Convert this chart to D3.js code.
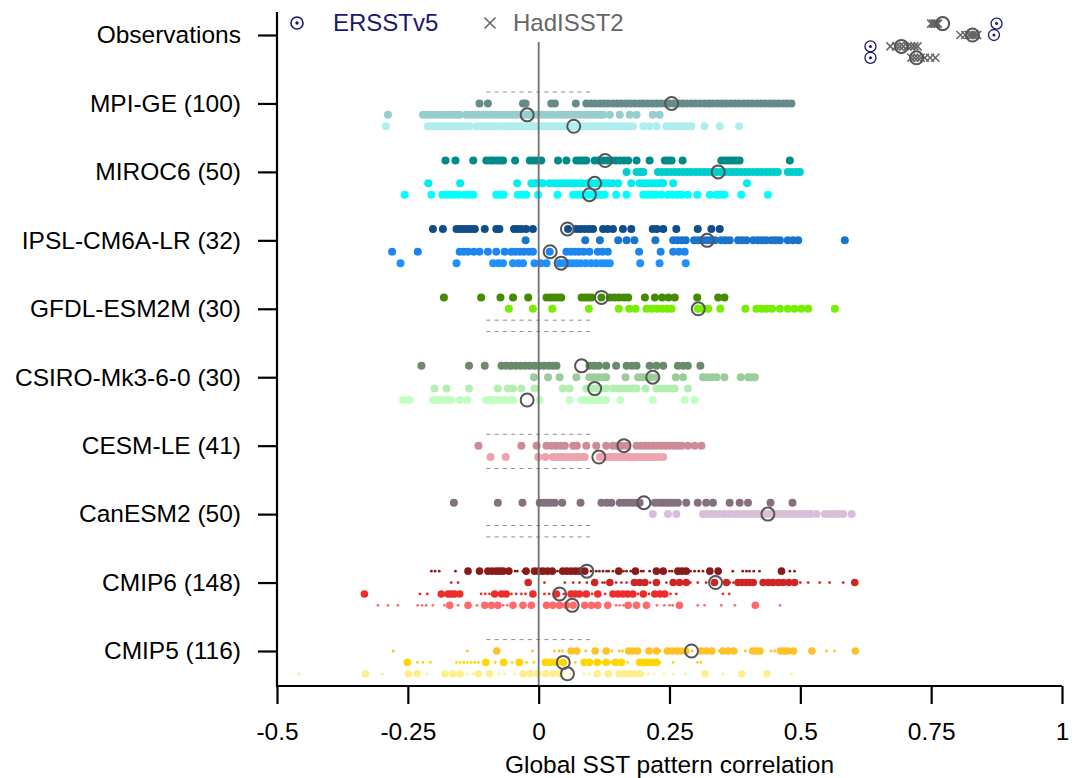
<!DOCTYPE html>
<html><head><meta charset="utf-8">
<script src="https://cdn.jsdelivr.net/npm/d3@7"></script>
<style>body{margin:0;background:#fff}svg{display:block;font-family:"Liberation Sans",Arial,sans-serif}</style>
</head><body><svg id="c" width="1079" height="778"></svg>
<script>
const categories = ["Observations","MPI-GE (100)","MIROC6 (50)","IPSL-CM6A-LR (32)","GFDL-ESM2M (30)","CSIRO-Mk3-6-0 (30)","CESM-LE (41)","CanESM2 (50)","CMIP6 (148)","CMIP5 (116)"];
const xTicks = [-0.5,-0.25,0,0.25,0.5,0.75,1];
const xTickLabels = ["-0.5","-0.25","0","0.25","0.5","0.75","1"];
const xTitle = "Global SST pattern correlation";
const legendLabels = ["ERSSTv5","HadISST2"];

// Observations (4 sub-rows)
const ersst = [0.875, 0.870, 0.634, 0.634];
const hadisst = [
  [0.750,0.754,0.757,0.760,0.763],
  [0.806,0.815,0.822,0.826,0.830,0.834,0.838],
  [0.672,0.683,0.690,0.697,0.705,0.712,0.718,0.724],
  [0.712,0.718,0.724,0.730,0.738,0.748,0.758]
];
const hadisstMeans = [0.772, 0.829, 0.693, 0.722];

// single-model large ensembles: 4 sub-rows each (null = no data, dashed)
const mpiGE = [null,
  [-0.113,-0.097,-0.030,-0.025,0.024,0.031,0.071,0.091,0.10,0.108,0.117,0.125,0.133,0.142,0.15,0.158,0.167,0.175,0.183,0.192,0.20,0.208,0.217,0.225,0.233,0.242,0.25,0.258,0.267,0.275,0.283,0.292,0.30,0.308,0.317,0.325,0.333,0.342,0.35,0.358,0.367,0.375,0.383,0.392,0.40,0.408,0.417,0.425,0.433,0.442,0.45,0.458,0.467,0.475,0.483],
  [-0.288,-0.221,-0.213,-0.205,-0.197,-0.189,-0.181,-0.173,-0.165,-0.158,-0.151,-0.138,-0.130,-0.122,-0.114,-0.106,-0.098,-0.090,-0.082,-0.074,-0.066,-0.058,-0.050,-0.042,-0.034,-0.026,-0.018,-0.010,-0.002,0.006,0.014,0.022,0.030,0.038,0.046,0.054,0.062,0.070,0.078,0.086,0.094,0.102,0.110,0.118,0.123,0.136,0.155,0.174,0.187,0.218,0.231],
  [-0.292,-0.212,-0.204,-0.196,-0.188,-0.180,-0.172,-0.164,-0.156,-0.148,-0.140,-0.132,-0.119,-0.111,-0.103,-0.095,-0.087,-0.081,-0.071,-0.063,-0.055,-0.047,-0.039,-0.031,-0.023,-0.015,-0.007,0.001,0.009,0.017,0.025,0.033,0.041,0.049,0.053,0.059,0.067,0.075,0.083,0.091,0.099,0.107,0.115,0.123,0.131,0.139,0.147,0.155,0.163,0.171,0.180,0.200,0.212,0.225,0.244,0.252,0.260,0.268,0.276,0.284,0.292,0.317,0.346,0.383]];
const mpiGEMeans = [null, 0.254, -0.022, 0.067];

const miroc6 = [
  [-0.178,-0.159,-0.125,-0.100,-0.093,-0.087,-0.080,-0.074,-0.068,-0.045,-0.017,-0.010,-0.003,0.005,0.037,0.053,0.072,0.079,0.085,0.091,0.107,0.115,0.123,0.131,0.139,0.147,0.155,0.163,0.171,0.187,0.212,0.241,0.247,0.254,0.275,0.349,0.356,0.363,0.370,0.377,0.384,0.480],
  [0.168,0.187,0.194,0.200,0.228,0.236,0.244,0.252,0.260,0.268,0.276,0.284,0.292,0.300,0.308,0.316,0.324,0.332,0.340,0.348,0.356,0.364,0.371,0.378,0.386,0.394,0.402,0.410,0.418,0.426,0.434,0.442,0.450,0.457,0.476,0.484,0.492,0.499],
  [-0.211,-0.150,-0.041,-0.014,-0.006,0.002,0.008,0.021,0.029,0.037,0.045,0.053,0.061,0.069,0.077,0.085,0.093,0.101,0.109,0.117,0.125,0.133,0.141,0.152,0.177,0.193,0.201,0.209,0.217,0.225,0.233,0.238,0.257,0.398],
  [-0.256,-0.205,-0.184,-0.176,-0.168,-0.160,-0.152,-0.141,-0.133,-0.125,-0.081,-0.074,-0.067,-0.040,-0.032,-0.024,-0.001,0.036,0.066,0.074,0.082,0.090,0.098,0.106,0.114,0.120,0.126,0.148,0.168,0.200,0.208,0.216,0.224,0.234,0.247,0.256,0.265,0.273,0.285,0.303,0.327,0.339,0.347,0.355,0.387,0.438]];
const miroc6Means = [0.127, 0.343, 0.107, 0.097];

const ipsl = [
  [-0.202,-0.183,-0.157,-0.150,-0.143,-0.136,-0.129,-0.122,-0.103,-0.081,-0.075,-0.047,-0.040,-0.033,-0.024,-0.011,0.056,0.072,0.080,0.088,0.096,0.104,0.123,0.132,0.142,0.161,0.177,0.218,0.226,0.238,0.263,0.304,0.330,0.346],
  [-0.025,0.089,0.117,0.152,0.168,0.183,0.223,0.257,0.265,0.273,0.281,0.297,0.305,0.313,0.321,0.329,0.337,0.349,0.357,0.365,0.381,0.389,0.397,0.410,0.419,0.427,0.435,0.445,0.453,0.461,0.476,0.486,0.496,0.585],
  [-0.280,-0.231,-0.151,-0.143,-0.135,-0.124,-0.113,-0.097,-0.081,-0.065,-0.052,-0.044,-0.036,-0.028,-0.019,-0.011,0.021,0.053,0.061,0.069,0.077,0.086,0.097,0.113,0.122,0.132,0.192,0.233,0.257,0.268,0.279],
  [-0.264,-0.157,-0.087,-0.077,-0.068,-0.049,-0.039,-0.030,-0.008,0.004,0.015,0.040,0.048,0.056,0.064,0.072,0.080,0.090,0.100,0.110,0.120,0.128,0.136,0.194,0.231,0.281]];
const ipslMeans = [0.055, 0.322, 0.022, 0.043];

const gfdl = [
  [-0.181,-0.110,-0.073,-0.049,-0.020,0.015,0.022,0.029,0.036,0.043,0.082,0.089,0.095,0.101,0.120,0.136,0.145,0.154,0.163,0.171,0.203,0.222,0.236,0.248,0.260,0.303,0.343,0.355],
  [-0.057,-0.011,0.026,0.096,0.153,0.173,0.185,0.206,0.216,0.226,0.236,0.246,0.254,0.304,0.314,0.324,0.347,0.395,0.416,0.426,0.436,0.446,0.461,0.476,0.489,0.502,0.515,0.566],
  null, null];
const gfdlMeans = [0.120, 0.305, null, null];

const csiro = [
  [-0.224,-0.133,-0.103,-0.071,-0.062,-0.053,-0.044,-0.035,-0.026,-0.017,-0.008,0.001,0.010,0.019,0.027,0.034,0.097,0.106,0.115,0.129,0.148,0.168,0.178,0.187,0.212,0.225,0.238,0.266,0.276,0.285,0.309],
  [-0.009,0.018,0.040,0.072,0.097,0.106,0.115,0.122,0.129,0.166,0.190,0.198,0.206,0.214,0.225,0.262,0.276,0.314,0.322,0.331,0.340,0.355,0.386,0.400,0.406,0.413],
  [-0.199,-0.176,-0.133,-0.078,-0.059,-0.049,-0.033,-0.008,0.046,0.059,0.091,0.100,0.110,0.120,0.129,0.142,0.152,0.162,0.172,0.180,0.187,0.204,0.225,0.235,0.245,0.253,0.260,0.285],
  [-0.259,-0.247,-0.202,-0.194,-0.186,-0.176,-0.168,-0.151,-0.137,-0.100,-0.092,-0.084,-0.075,-0.066,-0.057,-0.049,0.002,0.059,0.082,0.090,0.098,0.106,0.114,0.122,0.129,0.156,0.218,0.279,0.298]];
const csiroMeans = [0.082, 0.218, 0.107, -0.022];

const cesm = [null,
  [-0.115,-0.033,-0.004,0.015,0.024,0.033,0.042,0.050,0.066,0.073,0.091,0.110,0.129,0.142,0.150,0.158,0.168,0.187,0.195,0.203,0.211,0.219,0.227,0.235,0.243,0.251,0.259,0.266,0.273,0.285,0.298,0.311],
  [-0.092,-0.063,-0.001,0.013,0.027,0.035,0.043,0.051,0.059,0.067,0.075,0.082,0.088,0.117,0.125,0.133,0.141,0.149,0.157,0.165,0.173,0.181,0.189,0.197,0.205,0.213,0.221,0.229,0.238],
  null];
const cesmMeans = [null, 0.163, 0.115, null];

const canesm = [
  [-0.162,-0.078,-0.031,0.002,0.010,0.017,0.024,0.031,0.045,0.080,0.120,0.130,0.139,0.155,0.163,0.171,0.179,0.186,0.193,0.222,0.230,0.237,0.244,0.251,0.258,0.266,0.282,0.304,0.320,0.333,0.365,0.384,0.400,0.443,0.485],
  [0.218,0.247,0.263,0.314,0.322,0.330,0.338,0.346,0.355,0.365,0.375,0.383,0.391,0.399,0.407,0.414,0.422,0.432,0.440,0.448,0.456,0.464,0.472,0.480,0.488,0.496,0.504,0.512,0.520,0.531,0.547,0.556,0.565,0.573,0.582,0.598],
  null, null];
const canesmMeans = [0.201, 0.438, null, null];

// multi-model archives: big dots (single runs) and small dots (ensemble members)
const cmip6Big = [
  [-0.135,-0.113,-0.097,-0.089,-0.081,-0.074,-0.068,-0.057,-0.024,-0.008,0.000,0.008,0.017,0.026,0.046,0.054,0.062,0.070,0.078,0.088,0.153,0.185,0.225,0.238,0.266,0.274,0.282,0.327,0.343,0.464],
  [-0.020,0.107,0.136,0.183,0.193,0.203,0.225,0.257,0.269,0.282,0.336,0.359,0.381,0.389,0.397,0.404,0.410,0.429,0.439,0.448,0.458,0.467,0.478,0.489,0.604],
  [-0.333,-0.186,-0.173,-0.167,-0.161,-0.151,-0.084,-0.071,-0.062,-0.011,0.034,0.062,0.070,0.078,0.091,0.113,0.142,0.152,0.161,0.170,0.180,0.200,0.222,0.232,0.241],
  [-0.170,-0.135,-0.103,-0.090,-0.078,-0.049,-0.030,-0.014,0.015,0.027,0.040,0.053,0.066,0.088,0.101,0.113,0.132,0.171,0.187,0.206,0.269,0.414]];
const cmip6Small = [
  [-0.205,-0.198,-0.190,-0.159,-0.045,-0.041,-0.030,0.036,0.100,0.110,0.116,0.123,0.130,0.134,0.142,0.162,0.168,0.176,0.196,0.200,0.212,0.250,0.255,0.290,0.298,0.306,0.314,0.371,0.390,0.397,0.403,0.411,0.422,0.480,0.489],
  [-0.167,-0.154,0.011,0.050,0.066,0.078,0.092,0.122,0.126,0.148,0.158,0.168,0.213,0.244,0.290,0.304,0.320,0.365,0.372,0.378,0.500,0.515,0.537,0.556,0.582],
  [-0.227,-0.213,-0.110,-0.102,-0.094,-0.052,-0.043,-0.033,-0.025,0.011,0.020,0.048,0.102,0.127,0.190,0.211,0.252,0.263,0.352,0.364],
  [-0.307,-0.288,-0.269,-0.231,-0.223,-0.215,-0.202,-0.180,-0.154,-0.118,-0.068,-0.060,0.148,0.155,0.162,0.226,0.240,0.250,0.256,0.304,0.317,0.349,0.375,0.461]];
const cmip6Means = [0.092, 0.338, 0.040, 0.064];

const cmip5Big = [null,
  [-0.080,0.062,0.073,0.108,0.129,0.172,0.180,0.189,0.211,0.225,0.246,0.255,0.264,0.272,0.281,0.310,0.320,0.331,0.352,0.362,0.373,0.409,0.416,0.423,0.462,0.469,0.476,0.487,0.522,0.605],
  [-0.251,-0.101,-0.067,-0.037,0.013,0.023,0.034,0.047,0.087,0.097,0.112,0.129,0.147,0.158,0.193,0.200,0.207,0.215,0.225],
  [-0.331,-0.249,-0.232,-0.179,-0.164,-0.150,-0.115,-0.094,-0.030,-0.016,-0.002,0.013,0.027,0.041,0.112,0.133,0.154,0.163,0.172,0.182,0.193,0.318,0.388,0.436]];
const cmip5Small = [null,
  [-0.278,-0.136,-0.012,0.030,0.039,0.045,0.090,0.140,0.154,0.160,0.232,0.293,0.335,0.345,0.395,0.444,0.451,0.550,0.565],
  [-0.232,-0.221,-0.207,-0.157,-0.150,-0.143,-0.136,-0.129,-0.122,-0.115,-0.083,-0.051,-0.023,-0.009,0.070,0.120,0.138,0.170,0.232,0.257,0.303,0.310],
  [-0.458,-0.299,-0.214,-0.136,-0.125,-0.076,-0.065,-0.046,0.060,0.087,0.097,0.200,0.210,0.221,0.239,0.257,0.281,0.352,0.483]];
const cmip5Means = [null, 0.292, 0.047, 0.055];

const rowColors = [
  null,
  ["#BBFFFF","#668B8B","#96CDCD","#AEEEEE"],
  ["#008B8B","#00CDCD","#00EEEE","#00FFFF"],
  ["#104E8B","#1874CD","#1C86EE","#1E90FF"],
  ["#458B00","#76EE00","#66CD00","#7FFF00"],
  ["#698B69","#9BCD9B","#B4EEB4","#C1FFC1"],
  ["#8B5F65","#CD8C95","#EEA2AD","#FFAEB9"],
  ["#84707F","#D8BFD8","#EED2EE","#FFE1FF"],
  ["#8B1A1A","#CD2626","#EE2C2C","#FF6A6A"],
  ["#8B7500","#FFC125","#FFD700","#FFEE8C"]
];

// ---------------------------------------------------------------
const svg = d3.select("#c");
const FS = 24.5;
const x = d3.scaleLinear().domain([-0.5, 1]).range([277, 1062]);
const y = d3.scaleLinear().domain([0, 9]).range([35, 651]);
const sub = d3.scaleLinear().domain([0, 3]).range([-11.4, 22.8]);
const rowY = (g, k) => y(g) + sub(k);

const models = [
  {g:1, big:mpiGE, means:mpiGEMeans},
  {g:2, big:miroc6, means:miroc6Means},
  {g:3, big:ipsl, means:ipslMeans},
  {g:4, big:gfdl, means:gfdlMeans},
  {g:5, big:csiro, means:csiroMeans},
  {g:6, big:cesm, means:cesmMeans},
  {g:7, big:canesm, means:canesmMeans},
  {g:8, big:cmip6Big, small:cmip6Small, means:cmip6Means, multi:true},
  {g:9, big:cmip5Big, small:cmip5Small, means:cmip5Means, multi:true}
];

const gDash = svg.append("g");
const gDots = svg.append("g");
const gZero = svg.append("g");
const gMeans = svg.append("g");

models.forEach(m => {
  for (let k = 0; k < 4; k++) {
    const yy = rowY(m.g, k);
    const col = rowColors[m.g][k];
    if (!m.big[k]) {
      gDash.append("line").attr("x1", x(-0.1)).attr("x2", x(0.1))
        .attr("y1", yy).attr("y2", yy)
        .attr("stroke", "#8c8c8c").attr("stroke-width", 1).attr("stroke-dasharray", "4,4.3");
      continue;
    }
    if (m.small && m.small[k]) {
      gDots.selectAll(null).data(m.small[k]).join("circle")
        .attr("cx", d => x(d)).attr("cy", yy).attr("r", 1.4).attr("fill", col);
    }
    gDots.selectAll(null).data(m.big[k]).join("circle")
      .attr("cx", d => x(d)).attr("cy", yy).attr("r", m.multi ? 3.8 : 4.0).attr("fill", col);
    if (m.means[k] != null) {
      gMeans.append("circle").attr("cx", x(m.means[k])).attr("cy", yy).attr("r", 6.5)
        .attr("fill", "none").attr("stroke", "#555").attr("stroke-width", 2);
    }
  }
});

// observations
const crossPath = s => `M${-s},${-s}L${s},${s}M${-s},${s}L${s},${-s}`;
for (let k = 0; k < 4; k++) {
  const yy = rowY(0, k);
  gDots.selectAll(null).data(hadisst[k]).join("path")
    .attr("transform", d => `translate(${x(d)},${yy})`).attr("d", crossPath(4))
    .attr("stroke", "#666").attr("stroke-width", 1.5).attr("fill", "none");
  gMeans.append("circle").attr("cx", x(hadisstMeans[k])).attr("cy", yy).attr("r", 6.5)
    .attr("fill", "none").attr("stroke", "#555").attr("stroke-width", 2);
  gMeans.append("circle").attr("cx", x(ersst[k])).attr("cy", yy).attr("r", 5.5)
    .attr("fill", "none").attr("stroke", "#191970").attr("stroke-width", 1.3);
  gMeans.append("circle").attr("cx", x(ersst[k])).attr("cy", yy).attr("r", 1.5)
    .attr("fill", "#191970");
}

// zero line
gZero.append("line").attr("x1", x(0)).attr("x2", x(0)).attr("y1", 42).attr("y2", 686)
  .attr("stroke", "#707070").attr("stroke-width", 1.8);

// axes
const xAxis = d3.axisBottom(x).tickValues(xTicks).tickSize(18).tickSizeOuter(0).tickPadding(19)
  .tickFormat((d, i) => xTickLabels[i]);
const gx = svg.append("g").attr("transform", "translate(0,686)").call(xAxis);
gx.select(".domain").remove();
gx.append("line").attr("x1", x(-0.5)).attr("x2", x(1)).attr("stroke", "#000").attr("stroke-width", 2.2);
gx.selectAll(".tick line").attr("stroke", "#000").attr("stroke-width", 2.2);
gx.selectAll("text").attr("font-size", FS).attr("fill", "#000").style("font-family", "Liberation Sans, Arial, sans-serif");

const yAxis = d3.axisLeft(y).tickValues(d3.range(categories.length)).tickSize(19).tickPadding(17)
  .tickFormat(i => categories[i]);
const gy = svg.append("g").attr("transform", "translate(277,0)").call(yAxis);
gy.select(".domain").remove();
gy.append("line").attr("y1", 12).attr("y2", 687).attr("stroke", "#000").attr("stroke-width", 2.2);
gy.selectAll(".tick line").attr("stroke", "#000").attr("stroke-width", 2.2);
gy.selectAll("text").attr("font-size", FS).attr("fill", "#000").style("font-family", "Liberation Sans, Arial, sans-serif");

svg.append("text").attr("x", (x(-0.5) + x(1)) / 2).attr("y", 773).attr("text-anchor", "middle")
  .attr("font-size", FS).attr("fill", "#000").text(xTitle);

// legend
const lg = svg.append("g");
lg.append("circle").attr("cx", 297).attr("cy", 23).attr("r", 6).attr("fill", "none").attr("stroke", "#191970").attr("stroke-width", 1.6);
lg.append("circle").attr("cx", 297).attr("cy", 23).attr("r", 1.7).attr("fill", "#191970");
lg.append("text").attr("x", 333).attr("y", 23).attr("dy", "0.35em").attr("font-size", 24).attr("fill", "#191970").text(legendLabels[0]);
lg.append("path").attr("transform", "translate(490,23)").attr("d", crossPath(5.5)).attr("stroke", "#666").attr("stroke-width", 1.6).attr("fill", "none");
lg.append("text").attr("x", 513).attr("y", 23).attr("dy", "0.35em").attr("font-size", 24).attr("fill", "#666").text(legendLabels[1]);
</script></body></html>
